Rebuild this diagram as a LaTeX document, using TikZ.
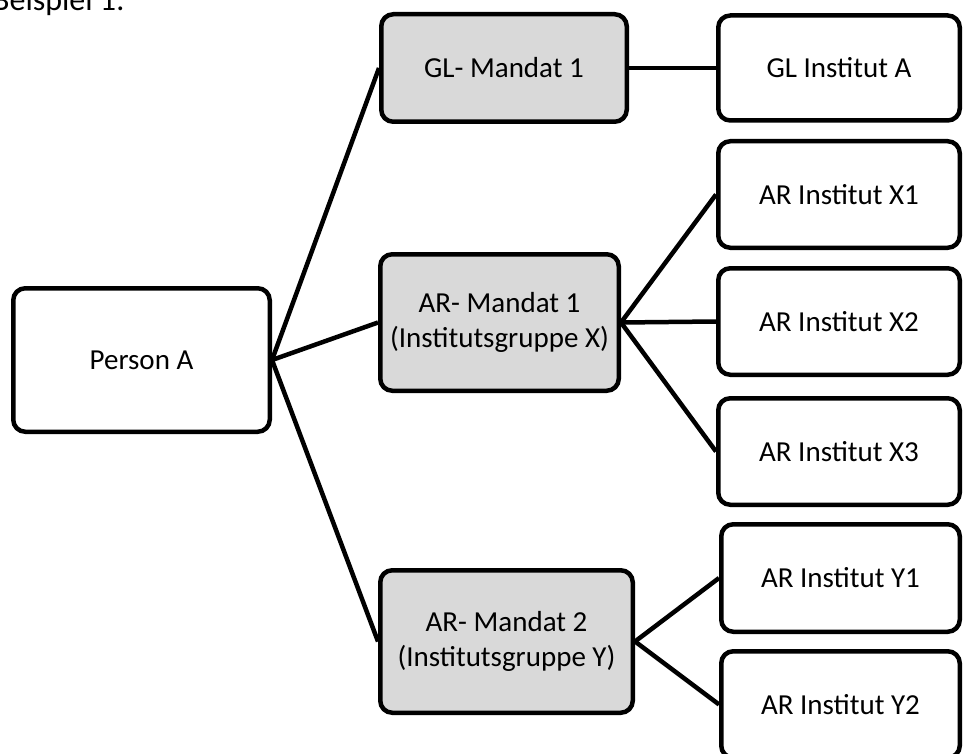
\documentclass[tikz,border=0pt]{standalone}
\usepackage{fontspec}
\setmainfont{Carlito}
\begin{document}
\begin{tikzpicture}[x=1pt,y=-1pt,
  box/.style={draw=black, line width=4.5pt, rounded corners=12pt, fill=white, align=center, font=\fontsize{29}{34.5}\selectfont, inner sep=0pt},
  grey/.style={box, fill=gray!30},
  inst/.style={box, minimum width=241.5pt, minimum height=106.5pt},
  link/.style={line width=4.5pt}]
\useasboundingbox (0,0) rectangle (963,754);
\clip (0,0) rectangle (963,754);
\node[anchor=base east, inner sep=0pt, font=\fontsize{32}{38}\selectfont] (title) at (125,10.5) {Beispiel 1:};
\node[box, minimum width=256.5pt, minimum height=143.5pt] (p) at (141.5,360) {Person A};
\node[grey, minimum width=245.5pt, minimum height=107.5pt] (gl) at (504,68) {GL- Mandat 1};
\node[grey, minimum width=238.5pt, minimum height=136.5pt] (ar1) at (499.5,322.5) {AR- Mandat 1\\(Institutsgruppe X)};
\node[grey, minimum width=252.5pt, minimum height=142.5pt] (ar2) at (506.5,641.5) {AR- Mandat 2\\(Institutsgruppe Y)};
\node[inst, minimum height=105pt] (ga) at (839,68) {GL Institut A};
\node[inst] (x1) at (839,194.5) {AR Institut X1};
\node[inst] (x2) at (839,321.5) {AR Institut X2};
\node[inst] (x3) at (839,451.5) {AR Institut X3};
\node[inst, minimum width=238.5pt, minimum height=107.5pt] (y1) at (840.5,578) {AR Institut Y1};
\node[inst, minimum width=238.5pt] (y2) at (840.5,704.5) {AR Institut Y2};
\draw[link] (p.east) -- (gl.west);
\draw[link] (p.east) -- (ar1.west);
\draw[link] (p.east) -- (ar2.west);
\draw[link] (gl.east) -- (ga.west);
\draw[link] (ar1.east) -- (x1.west);
\draw[link] (ar1.east) -- (x2.west);
\draw[link] (ar1.east) -- (x3.west);
\draw[link] (ar2.east) -- (y1.west);
\draw[link] (ar2.east) -- (y2.west);
\end{tikzpicture}
\end{document}
